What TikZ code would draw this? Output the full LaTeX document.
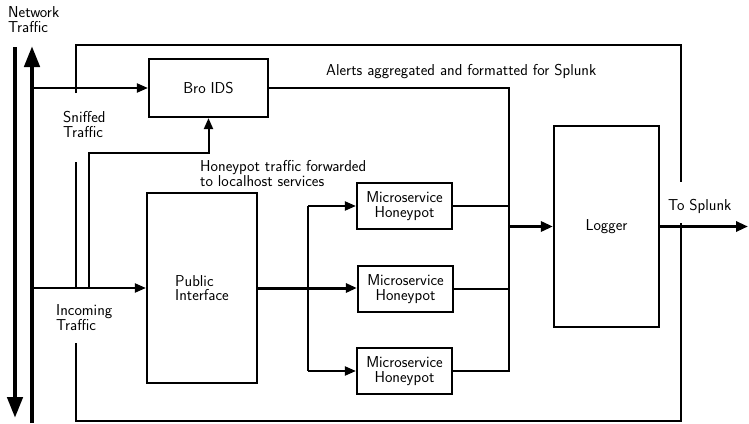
\documentclass[tikz,border=0pt]{standalone}
\usetikzlibrary{arrows.meta}
\begin{document}
\begin{tikzpicture}[x=1pt,y=-1pt,
  every node/.style={font=\sffamily\fontsize{15.8}{14.5}\selectfont, inner sep=0pt},
  box/.style={draw, line width=2.2pt, align=center},
  hpbox/.style={box, minimum width=95pt, minimum height=46pt},
  conn/.style={line width=2pt},
  arr/.style={conn, -{Triangle[length=11pt,width=9pt]}},
  midarr/.style={line width=3pt, -{Triangle[length=11pt,width=9pt]}},
  thickarr/.style={line width=3.5pt, -{Triangle[length=12pt,width=10pt]}},
  net/.style={line width=4.5pt, -{Triangle[length=21pt,width=15pt]}},
  lbl/.style={anchor=base west, align=left},
]
\useasboundingbox (0,0) rectangle (749,423);

% network traffic lines
\coordinate (netdownA) at (15,47);
\coordinate (netdownB) at (15,418);
\coordinate (netupA) at (32,423);
\coordinate (netup) at (32,46);
\draw[net] (netdownA) -- (netdownB);
\draw[net] (netupA) -- (netup);

% boxes
\node[box, minimum width=119pt, minimum height=58pt] (bro) at (208.5,88) {Bro IDS};
\node[box, minimum width=110pt, minimum height=190pt, align=left] (pub) at (202,288) {Public\\Interface};
\node[box, minimum width=105pt, minimum height=201pt] (log) at (606.5,226.5) {Logger};
\node[hpbox] (hp1) at (404.5,206) {Microservice\\Honeypot};
\node[hpbox] (hp2) at (405.5,289) {Microservice\\Honeypot};
\node[hpbox] (hp3) at (404.5,371) {Microservice\\Honeypot};

% outer frame
\coordinate (fa) at (76,93);
\coordinate (fb) at (76,45);
\coordinate (fc) at (681,45);
\coordinate (fd) at (681,182);
\coordinate (fe) at (681,223);
\coordinate (ff) at (681,421);
\coordinate (fg) at (76,421);
\coordinate (fh) at (76,343);
\coordinate (fi) at (76,162);
\coordinate (fj) at (76,288);
\draw[conn] (fa) -- (fb) -- (fc) -- (fd);
\draw[conn] (fe) -- (ff) -- (fg) -- (fh);
\draw[conn] (fi) -- (fj);

% sniffed traffic
\draw[arr] (bro.west -| netup) -- (bro.west);
\coordinate (tapB) at (89,288);
\coordinate (tapBtop) at (89,153);
\draw[arr] (tapB) -- (tapBtop) -| (bro.south);

% incoming traffic
\draw[arr] (pub.west -| netup) -- (pub.west);

% public interface to honeypots
\coordinate (br) at (308,288);
\draw[midarr] (pub.east) -- (pub.east -| hp2.west);
\draw[conn] (hp1.west -| br) -- (hp3.west -| br);
\draw[arr] (hp1.west -| br) -- (hp1.west);
\draw[arr] (hp3.west -| br) -- (hp3.west);

% collector to logger
\coordinate (col) at (509,0);
\draw[conn] (bro.east) -| (hp3.east -| col) -- (hp3.east);
\draw[conn] (hp1.east) -- (hp1.east -| col);
\draw[conn] (hp2.east) -- (hp2.east -| col);
\draw[thickarr] (log.west -| col) -- (log.west);
\coordinate (splunk) at (748,226.5);
\draw[thickarr] (log.east) -- (splunk);

% labels (base anchor = baseline of last line)
\node[lbl] (nt) at (8,32) {Network\\Traffic};
\node[lbl] (sn) at (63,137) {Sniffed\\Traffic};
\node[lbl] (inc) at (56,330) {Incoming\\Traffic};
\node[lbl] (hpt) at (200,186) {Honeypot traffic forwarded\\to localhost services};
\node[lbl] (al) at (326,75) {Alerts aggregated and formatted for Splunk};
\node[lbl] (ts) at (668,210) {To Splunk};
\end{tikzpicture}
\end{document}
